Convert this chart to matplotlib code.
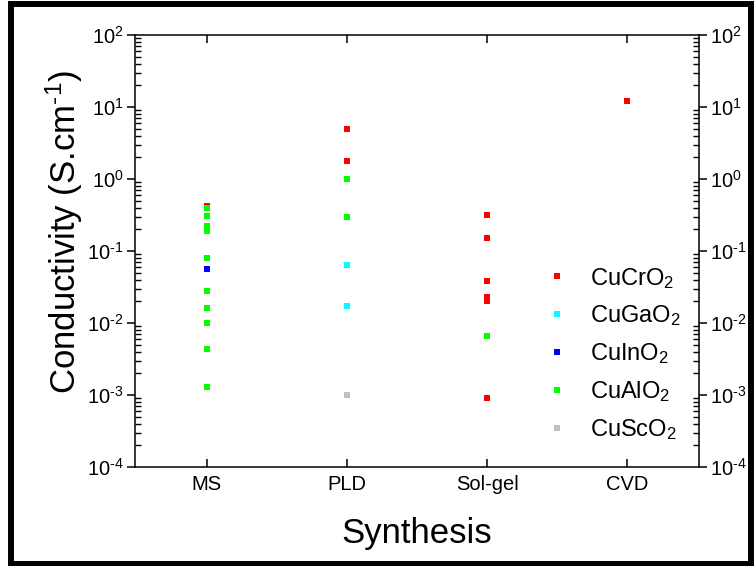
import matplotlib as mpl
mpl.use('agg')
import matplotlib.pyplot as plt
from matplotlib.patches import Rectangle
from matplotlib.ticker import FuncFormatter
import numpy as np

plt.rcParams['font.family'] = ['Liberation Sans', 'DejaVu Sans']
plt.rcParams['mathtext.fontset'] = 'custom'
plt.rcParams['mathtext.rm'] = 'Liberation Sans'
plt.rcParams['mathtext.it'] = 'Liberation Sans:italic'
plt.rcParams['mathtext.bf'] = 'Liberation Sans:bold'

methods = ['MS', 'PLD', 'Sol-gel', 'CVD']

# (method index, conductivity S/cm)
cucro2_x = [1, 1, 2, 2, 3, 3, 3, 3, 3, 3, 4]
cucro2_y = [0.42, 0.08, 4.9, 1.8, 0.32, 0.15, 0.038, 0.023, 0.020, 0.0009, 12.0]
cugao2_x = [2, 2]
cugao2_y = [0.063, 0.017]
cuino2_x = [1]
cuino2_y = [0.056]
cualo2_x = [1, 1, 1, 1, 1, 1, 1, 1, 1, 1, 2, 2, 3]
cualo2_y = [0.40, 0.31, 0.22, 0.19, 0.08, 0.028, 0.016, 0.0100, 0.0044, 0.0013,
            1.0, 0.30, 0.0066]
cusco2_x = [2]
cusco2_y = [0.001]

series = [
    ('CuCrO$_2$', cucro2_x, cucro2_y, '#ff0000'),
    ('CuGaO$_2$', cugao2_x, cugao2_y, '#00ffff'),
    ('CuInO$_2$', cuino2_x, cuino2_y, '#0000ff'),
    ('CuAlO$_2$', cualo2_x, cualo2_y, '#00ff00'),
    ('CuScO$_2$', cusco2_x, cusco2_y, '#c0c0c0'),
]


def decade(v, pos):
    e = int(round(np.log10(v)))
    if e < 0:
        return r'10$^{\text{-}%d}$' % (-e)
    return r'10$^{%d}$' % e


fig = plt.figure(figsize=(7.55, 5.66), dpi=100)
ax = fig.add_axes([0.1788, 0.1749, 0.9258 - 0.1788, 0.9382 - 0.1749])

for name, xs, ys, col in series:
    ax.plot(xs, ys, linestyle='none', marker='s', markersize=4.3,
            color=col, markeredgewidth=0, label=name)

ax.set_yscale('log')
ax.set_ylim(1e-4, 1e2)
ax.yaxis.set_major_formatter(FuncFormatter(decade))
ax.set_xlim(0.49, 4.51)
ax.set_xticks([1, 2, 3, 4])
ax.set_xticklabels(methods)

for s in ax.spines.values():
    s.set_linewidth(1.1)

ax.tick_params(axis='x', which='major', direction='in', length=6, width=1.1,
               top=True, bottom=True, labelsize=14.5, pad=6)
ax.tick_params(axis='y', which='major', direction='out', length=6, width=1.1,
               left=True, right=True, labelleft=True, labelright=True,
               labelsize=14.5, pad=2)
ax.tick_params(axis='y', which='minor', direction='in', length=4, width=1.0,
               left=True, right=True)
ax.tick_params(axis='x', which='minor', bottom=False, top=False)

ax.set_xlabel('Synthesis', fontsize=25, labelpad=16)
ax.set_ylabel(r'Conductivity (S.cm$^{\text{-}1}$)', fontsize=25)
ax.yaxis.set_label_coords(-0.088, 0.545)

leg = ax.legend(loc='upper left', bbox_to_anchor=(0.714, 0.488), frameon=False,
                fontsize=17, handlelength=0.8, handletextpad=1.0,
                labelspacing=0.55, borderaxespad=0)

# black frame around the whole picture
fig.patches.append(Rectangle((0.0146, 0.004), 0.9946 - 0.0146, 0.993 - 0.004,
                             transform=fig.transFigure, fill=False,
                             edgecolor='black', linewidth=4.3, zorder=10))

plt.savefig('out.png', dpi=100)
